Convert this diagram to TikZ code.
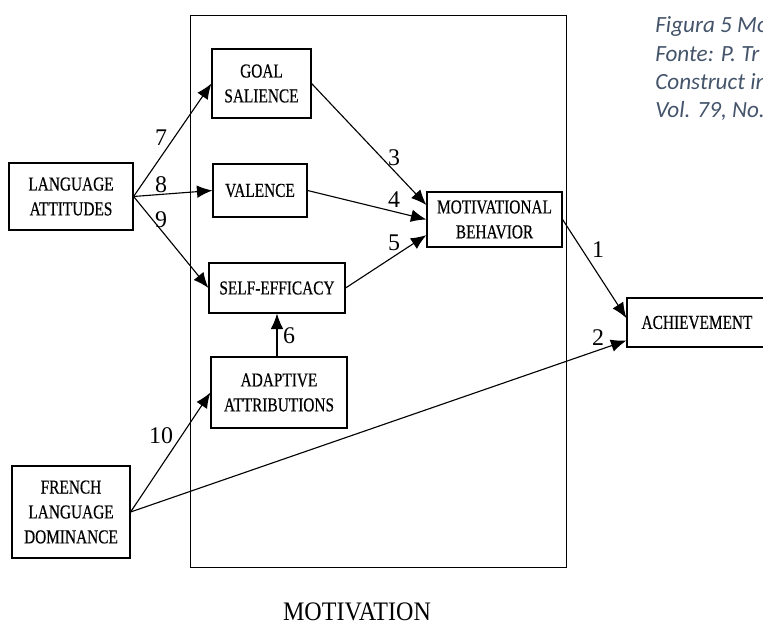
\documentclass[tikz,border=0pt]{standalone}
\usepackage{fontspec}
\setmainfont{Liberation Serif}
\newfontfamily\boxfont[FakeStretch=0.78, FakeBold=0.4]{Liberation Serif}
\newfontfamily\titlefont[FakeStretch=0.9]{Liberation Serif}
\newfontfamily\notefont{Carlito}
\usepackage{xcolor}
\definecolor{notegrey}{HTML}{44546A}
\usetikzlibrary{arrows.meta}

\begin{document}
\begin{tikzpicture}[x=0.025cm, y=-0.025cm]
\tikzstyle{box}=[rectangle, draw=black, line width=0.8pt, align=center, inner sep=0pt,
        font=\boxfont\fontsize{14}{17.7}\selectfont]
\tikzstyle{link}=[-{Latex[length=11pt, width=9pt]}, line width=0.8pt]
\tikzstyle{weight}=[inner sep=0pt, font=\fontsize{17}{17}\selectfont]
\tikzstyle{note}=[anchor=base west, inner sep=0pt, text=notegrey,
        font=\notefont\itshape\fontsize{16.5}{20}\selectfont]

\useasboundingbox (0,0) rectangle (763,622);
\clip (0,0) rectangle (763,622);

    % motivation frame
    \node (frame) [draw, line width=0.6pt, minimum width=9.4cm, minimum height=13.8cm, inner sep=0pt] at (378,291) {};
    \node (title) [inner sep=0pt, anchor=base, font=\titlefont\fontsize{19}{19}\selectfont] at (357,620) {MOTIVATION};

    \node (gs) [box, minimum width=2.475cm, minimum height=1.725cm] at (261.5,83.5) {GOAL\\ SALIENCE};
    \node (val) [box, minimum width=2.35cm, minimum height=1.325cm] at (260,190.5) {VALENCE};
    \node (se) [box, minimum width=3.4cm, minimum height=1.25cm] at (277,288) {SELF-EFFICACY};
    \node (aa) [box, minimum width=3.4cm, minimum height=1.775cm] at (279,392.5) {ADAPTIVE\\ ATTRIBUTIONS};

    \node (la) [box, minimum width=3.1cm, minimum height=1.675cm] at (71,196.5) {LANGUAGE\\ ATTITUDES};
    \node (fld) [box, minimum width=2.95cm, minimum height=2.3cm] at (71,512) {FRENCH\\ LANGUAGE\\ DOMINANCE};

    \node (mb) [box, minimum width=3.375cm, minimum height=1.375cm] at (494.5,219.5) {MOTIVATIONAL\\ BEHAVIOR};
    \node (ach) [box, minimum width=3.5cm, minimum height=1.225cm] at (697,322.5) {ACHIEVEMENT};

    % path weights
    \node (w1) [weight] at (598,250) {1};
    \node (w2) [weight] at (598,338) {2};
    \node (w3) [weight] at (394,158) {3};
    \node (w4) [weight] at (394,200) {4};
    \node (w5) [weight] at (394,243) {5};
    \node (w6) [weight] at (289,336) {6};
    \node (w7) [weight] at (161,138) {7};
    \node (w8) [weight] at (161,185) {8};
    \node (w9) [weight] at (161,220) {9};
    \node (w10) [weight] at (161,436) {10};

    % source note
    \node (note1) [note] at (655,33) {Figura 5 Mo};
    \node (note2) [note] at (655,62) {Fonte: P. Tr};
    \node (note3) [note] at (655,90) {Construct in};
    \node (note4) [note] at (655,118) {Vol. 79, No.};

\draw[link] (la.east) -- (gs.west);
\draw[link] (la.east) -- (val.west);
\draw[link] (la.east) -- (se.west);

\draw[link] (gs.east) -- ([yshift=0.36cm]mb.west);
\draw[link] (val.east) -- (mb.west);
\draw[link] (se.east) -- ([yshift=-0.39cm]mb.west);
\draw[link] (aa.north -| se.south) -- (se.south);

\draw[link] (fld.east) -- (aa.west);
\draw[link] (fld.east) -- ([yshift=-0.45cm]ach.west);
\draw[link] (mb.east) -- ([yshift=0.11cm]ach.west);

\end{tikzpicture}
\end{document}
